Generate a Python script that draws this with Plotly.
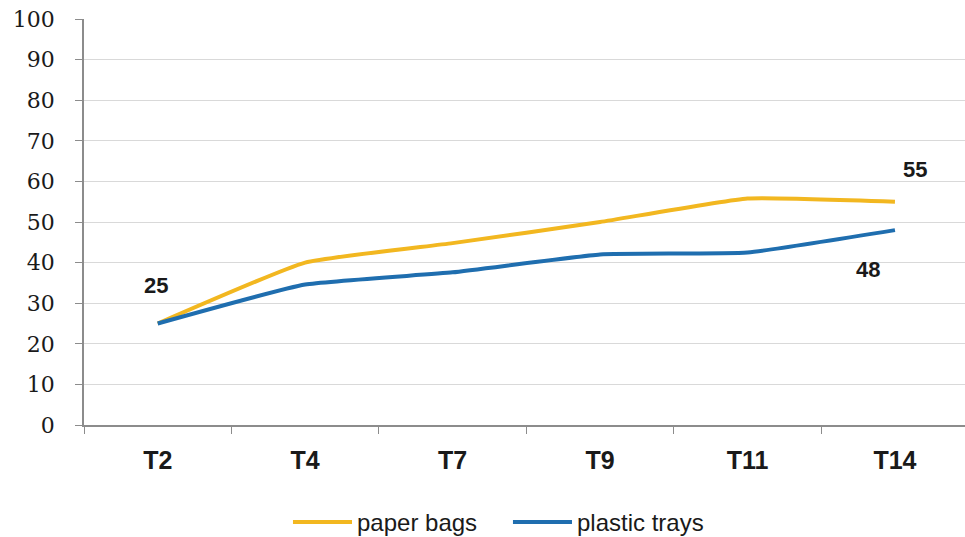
import plotly.graph_objects as go

# Sampling times and measured values
categories = ["T2", "T4", "T7", "T9", "T11", "T14"]
paper_bags = [25, 40, 44.8, 50, 55.8, 55]
plastic_trays = [25, 34.6, 37.6, 42, 42.5, 48]
y_ticks = list(range(0, 101, 10))
series_names = ["paper bags", "plastic trays"]

PAPER = "#F2B720"
PLASTIC = "#1F6EAF"
SANS = "Liberation Sans, Arial, sans-serif"
NARROW = "Liberation Sans Narrow, Liberation Sans, Arial, sans-serif"
SERIF = "DejaVu Serif, Liberation Serif, serif"
TEXT = "#1a1a1a"

fig = go.Figure()
for name, values, color in [(series_names[0], paper_bags, PAPER),
                            (series_names[1], plastic_trays, PLASTIC)]:
    fig.add_trace(go.Scatter(
        x=categories, y=values, name=name, mode="lines",
        line=dict(color=color, width=4, shape="spline", smoothing=0.4),
        showlegend=False,
    ))

# Value labels at the first and last points
label_font = dict(family=SANS, size=22, color=TEXT)
fig.add_annotation(x=categories[0], y=paper_bags[0], text=f"<b>{paper_bags[0]:g}</b>",
                   showarrow=False, xshift=-2, yshift=38, font=label_font)
fig.add_annotation(x=categories[-1], y=paper_bags[-1], text=f"<b>{paper_bags[-1]:g}</b>",
                   showarrow=False, xshift=20, yshift=32, font=label_font)
fig.add_annotation(x=categories[-1], y=plastic_trays[-1], text=f"<b>{plastic_trays[-1]:g}</b>",
                   showarrow=False, xshift=-27, yshift=-39, font=label_font)

# Legend drawn below the plot: a line sample followed by the series name
legend_y = -0.239
legend_items = [(series_names[0], PAPER, 0.2372, 0.3042),
                (series_names[1], PLASTIC, 0.4869, 0.5539)]
for name, color, x0, x1 in legend_items:
    fig.add_shape(type="line", xref="paper", yref="paper", x0=x0, x1=x1,
                  y0=legend_y, y1=legend_y, line=dict(color=color, width=4))
    fig.add_annotation(xref="paper", yref="paper", x=x1 + 0.003, y=legend_y,
                       xanchor="left", yanchor="middle", text=name, showarrow=False,
                       font=dict(family=SANS, size=24, color=TEXT))

fig.update_layout(
    width=965, height=537,
    margin=dict(l=84, r=0, t=19, b=112, autoexpand=False),
    paper_bgcolor="white", plot_bgcolor="white",
    showlegend=False,
)
fig.update_xaxes(
    type="category", range=[-0.5, 5.475],
    showline=True, linecolor="#8c8c8c", linewidth=1.5,
    ticks="outside", tickson="boundaries", ticklen=7, tickcolor="#8c8c8c",
    showgrid=False, tickfont=dict(family=NARROW, size=25, color=TEXT, weight="bold"),
    ticklabelstandoff=12,
)
fig.update_yaxes(
    range=[0, 100], tickvals=y_ticks,
    showline=True, linecolor="#8c8c8c", linewidth=1.5,
    ticks="outside", ticklen=7, tickcolor="#8c8c8c",
    showgrid=True, gridcolor="#d9d9d9", gridwidth=1.2, zeroline=False,
    tickfont=dict(family=SERIF, size=22, color=TEXT),
    ticklabelstandoff=16,
)

fig.write_html("out.html")
